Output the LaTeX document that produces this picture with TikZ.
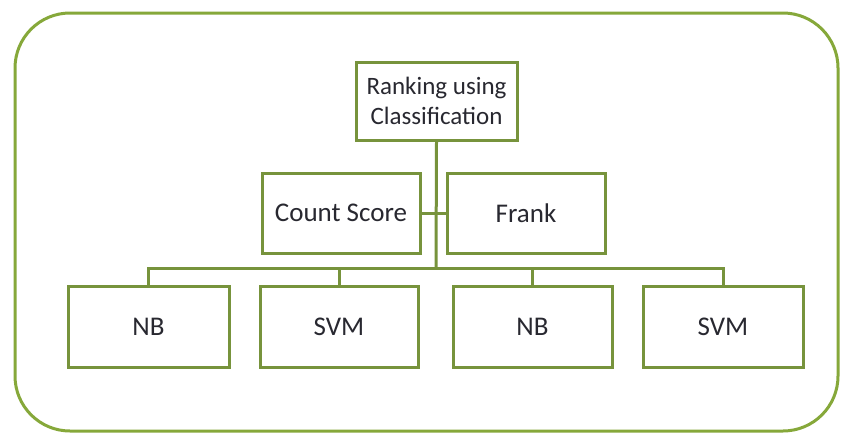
\documentclass[tikz,border=0pt]{standalone}
\usepackage{fontspec}
\setmainfont{Carlito}
\definecolor{boxgreen}{RGB}{119,147,60}
\definecolor{outergreen}{RGB}{134,168,58}
\definecolor{txt}{RGB}{40,40,48}
\begin{document}
\begin{tikzpicture}[x=1pt,y=-1pt,
  box/.style={draw=boxgreen,line width=3pt,fill=white,inner sep=0pt,align=center,
    font=\fontsize{27}{30}\selectfont,text=txt},
  link/.style={draw=boxgreen,line width=3pt}]
\useasboundingbox (0,0) rectangle (845,434);
\draw[outergreen,line width=3pt,rounded corners=55pt] (15,13) rectangle (838,431);
\node[box,minimum width=161pt,minimum height=78pt,font=\fontsize{25}{30}\selectfont] (top) at (436.5,101) {Ranking using\\Classification};
\node[box,minimum width=158pt,minimum height=80pt] (cs) at (341,213) {Count Score};
\node[box,minimum width=158pt,minimum height=80pt] (fr) at (526,213) {Frank};
\node[box,minimum width=161pt,minimum height=81pt] (nb1) at (148.5,326.5) {NB};
\node[box,minimum width=158pt,minimum height=81pt] (svm1) at (339,326.5) {SVM};
\node[box,minimum width=159pt,minimum height=81pt] (nb2) at (532.5,326.5) {NB};
\node[box,minimum width=160pt,minimum height=81pt] (svm2) at (723,326.5) {SVM};
\coordinate (bar) at (436,268);
\draw[link] (top.south) -- (bar);
\draw[link] (cs.east) -- (fr.west);
\draw[link] (nb1.north) |- (bar) -| (svm2.north);
\draw[link] (svm1.north) -- (svm1.north |- bar);
\draw[link] (nb2.north) -- (nb2.north |- bar);
\end{tikzpicture}
\end{document}
